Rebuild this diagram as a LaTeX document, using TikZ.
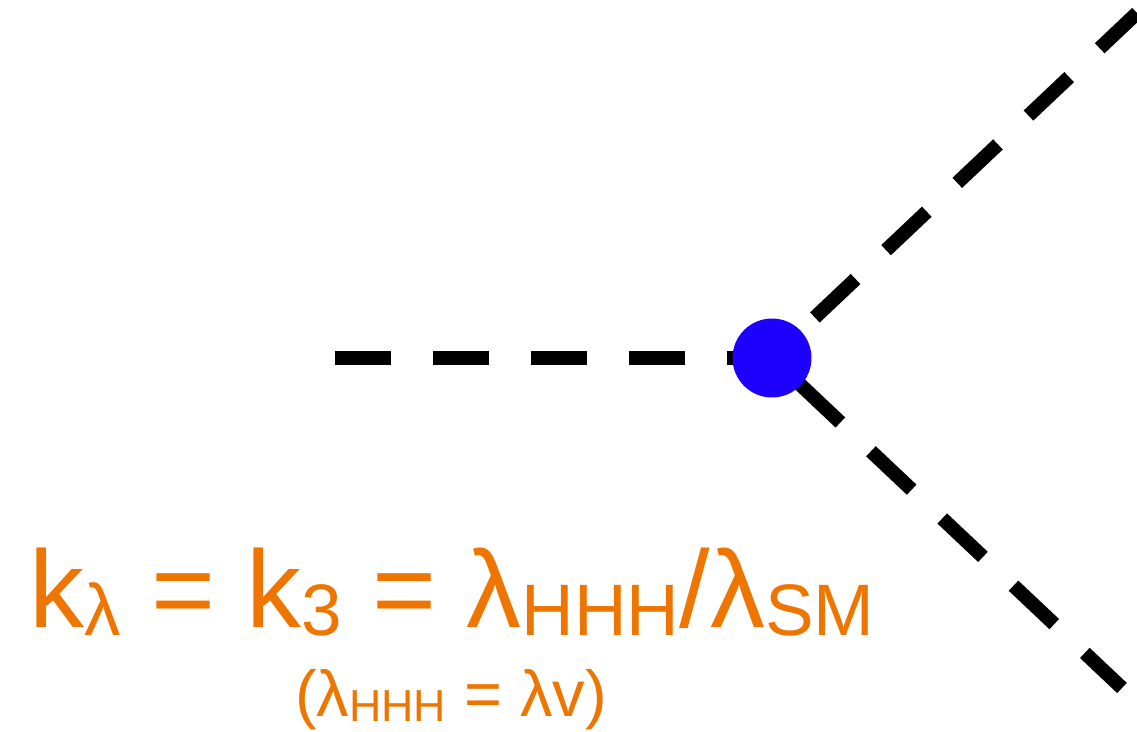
\documentclass[tikz,border=0pt]{standalone}
\usepackage{fontspec}
\setmainfont{Liberation Sans}
\usetikzlibrary{positioning}
\definecolor{kOrange}{HTML}{EE7600}
\definecolor{kBlue}{HTML}{1E00FF}
\newcommand{\lsub}[1]{\raisebox{-0.07em}{\fontsize{41.5}{46}\selectfont #1}}
\newcommand{\ssub}[1]{\raisebox{-0.07em}{\fontsize{25.5}{28}\selectfont #1}}
\tikzset{
  hig/.style  = {draw=black, line width=0.28cm, dash pattern=on 1.12cm off 0.84cm},
  vtx/.style  = {circle, fill=kBlue, inner sep=0pt, minimum size=1.58cm},
  lbl/.style  = {text=kOrange, inner sep=0pt, font=\fontsize{62.5}{70}\selectfont},
  lblsm/.style = {text=kOrange, inner sep=0pt, font=\fontsize{37}{42}\selectfont},
}
\begin{document}
\begin{tikzpicture}[x=0.02cm, y=-0.02cm]
  \useasboundingbox (0,0) rectangle (1137,732);
  % trilinear vertex
  \coordinate (v)  at (772,358);
  \coordinate (hl) at (335,358);
  \coordinate (hu) at (1137,13);
  \coordinate (hd) at (1122,688);
  \draw[hig] (hl) -- (v);
  \draw[hig, dash phase=0.78cm] (v) -- (hu);
  \draw[hig, dash phase=1.2cm]  (v) -- (hd);
  \node[vtx] (dot) at (v) {};
  % coupling modifier
  \node[lbl, anchor=base] (kl) at (452,628)
       {k\lsub{λ} = k\lsub{3} = λ\lsub{HHH}/λ\lsub{SM}};
  \node[lblsm, anchor=base] (lv) at (451,717)
       {(λ\ssub{HHH} = λv)};
\end{tikzpicture}
\end{document}
